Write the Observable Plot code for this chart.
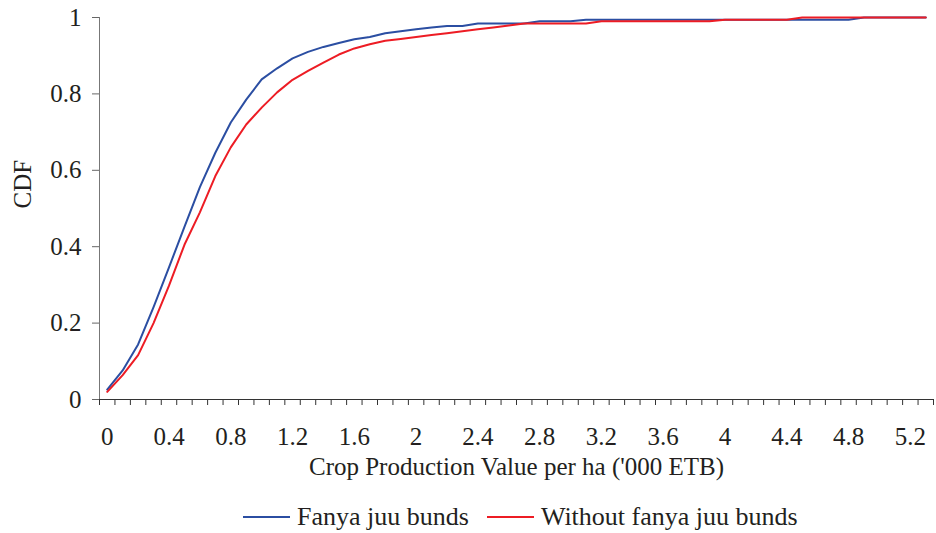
<!DOCTYPE html>
<html><head><meta charset="utf-8">
<script src="https://cdn.jsdelivr.net/npm/d3@7"></script>
<script src="https://cdn.jsdelivr.net/npm/@observablehq/plot@0.6"></script>
<style>
html,body{margin:0;padding:0;background:#fff;}
body{font-family:"Liberation Serif","Times New Roman",serif;color:#231f20;width:936px;height:533px;overflow:hidden;}
#legend{display:flex;align-items:center;height:33px;margin-top:10px;padding-left:243px;font-size:26px;line-height:1;}
#legend .item{display:flex;align-items:center;}
#legend svg{margin-right:7px;}
#legend .item + .item{margin-left:18px;}
</style></head><body>
<div id="chart"></div>
<div id="legend"></div>
<script>
const xCategories = [0,0.1,0.2,0.3,0.4,0.5,0.6,0.7,0.8,0.9,1,1.1,1.2,1.3,1.4,1.5,1.6,1.7,1.8,1.9,2,2.1,2.2,2.3,2.4,2.5,2.6,2.7,2.8,2.9,3,3.1,3.2,3.3,3.4,3.5,3.6,3.7,3.8,3.9,4,4.1,4.2,4.3,4.4,4.5,4.6,4.7,4.8,4.9,5,5.1,5.2,5.3];
const fanyaJuu = [0.026,0.076,0.144,0.242,0.346,0.452,0.556,0.646,0.725,0.785,0.838,0.867,0.893,0.910,0.923,0.933,0.943,0.949,0.959,0.964,0.969,0.974,0.978,0.978,0.984,0.984,0.984,0.984,0.990,0.990,0.990,0.994,0.994,0.994,0.994,0.994,0.994,0.994,0.994,0.994,0.994,0.994,0.994,0.994,0.994,0.994,0.994,0.994,0.994,1,1,1,1,1];
const withoutFanyaJuu = [0.020,0.064,0.116,0.200,0.298,0.405,0.490,0.585,0.660,0.720,0.764,0.804,0.837,0.860,0.882,0.903,0.919,0.930,0.939,0.944,0.949,0.954,0.959,0.964,0.969,0.974,0.979,0.984,0.984,0.984,0.984,0.984,0.990,0.990,0.990,0.990,0.990,0.990,0.990,0.990,0.994,0.994,0.994,0.994,0.994,1,1,1,1,1,1,1,1,1];
const xTickLabels = [0,0.4,0.8,1.2,1.6,2,2.4,2.8,3.2,3.6,4,4.4,4.8,5.2];
const yTicks = [0,0.2,0.4,0.6,0.8,1];
const seriesNames = ["Fanya juu bunds","Without fanya juu bunds"];
const seriesColors = ["#2b4ea2","#ed1c24"];
const xTitle = "Crop Production Value per ha ('000 ETB)";
const yTitle = "CDF";

const data = xCategories.flatMap((x,i)=>[
  {x, y:fanyaJuu[i], s:seriesNames[0]},
  {x, y:withoutFanyaJuu[i], s:seriesNames[1]}
]);
const half = 0.05;
const boundaries = xCategories.map(x=>x-half).concat([xCategories[xCategories.length-1]+half]);
const xDomain = [boundaries[0], boundaries[boundaries.length-1]];

const chart = Plot.plot({
  width:936, height:490,
  marginTop:17, marginBottom:91, marginLeft:99, marginRight:3,
  x:{domain:xDomain},
  y:{domain:[0,1]},
  color:{domain:seriesNames, range:seriesColors},
  style:{fontFamily:"Liberation Serif, Times New Roman, serif", fontSize:"25px", color:"#231f20", background:"#fff", overflow:"visible"},
  marks:[
    Plot.axisX(boundaries,{tickSize:6, tickFormat:()=>"", label:null, stroke:"#333"}),
    Plot.axisX(xTickLabels,{tickSize:0, tickPadding:28, tickFormat:d=>String(d), label:null, fontSize:25}),
    Plot.axisY(yTicks,{tickSize:7, tickPadding:11, tickFormat:d=>String(d), label:null, stroke:"#666", fontSize:25}),
    Plot.ruleX([xDomain[0]],{stroke:"#777"}),
    Plot.ruleY([0],{stroke:"#333"}),
    Plot.lineY(data,{x:"x", y:"y", stroke:"s", strokeWidth:2}),
    Plot.text([xTitle],{frameAnchor:"bottom", dy:67, lineAnchor:"middle", fontSize:25}),
    Plot.text([yTitle],{frameAnchor:"left", dx:-77, rotate:-90, lineAnchor:"middle", fontSize:25})
  ]
});
document.getElementById("chart").appendChild(chart);

const legend = document.getElementById("legend");
seriesNames.forEach((name,i)=>{
  const item = document.createElement("div");
  item.className = "item";
  item.innerHTML = `<svg width="47" height="4"><line x1="0" y1="2" x2="47" y2="2" stroke="${seriesColors[i]}" stroke-width="2"/></svg><span>${name}</span>`;
  legend.appendChild(item);
});
</script>
</body></html>
